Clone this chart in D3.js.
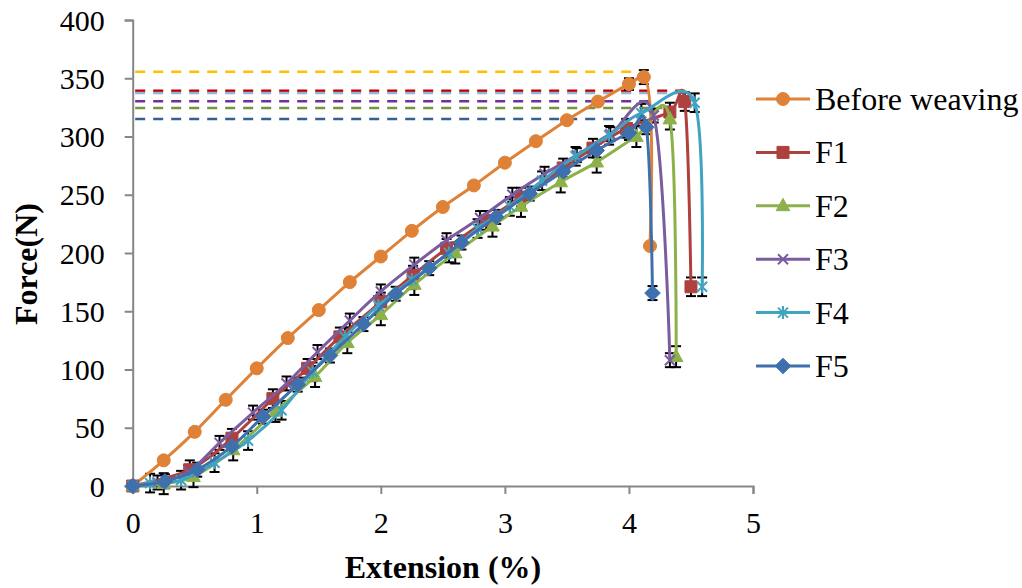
<!DOCTYPE html>
<html>
<head>
<meta charset="utf-8">
<script src="https://cdn.jsdelivr.net/npm/d3@7"></script>
<style>
    body { margin: 0; background: #fff; }
    text { font-family: "Liberation Serif", "Times New Roman", serif; fill: #000; }
</style>
</head>
<body>
<svg id="chart" width="1022" height="588"></svg>
<script>
// extension (%) / force (N) readings
const beforeX = [0, 0.25, 0.5, 0.75, 1, 1.25, 1.5, 1.75, 2, 2.25, 2.5, 2.75, 3, 3.25, 3.5, 3.75, 4, 4.12, 4.17]
const beforeY = [0, 22, 46.5, 74, 101, 127, 151, 175, 197, 219, 239.5, 258, 277.5, 296, 314, 330, 345, 351, 206]
const beforeErr = [0, 0, 0, 0, 0, 0, 0, 0, 0, 0, 0, 0, 0, 0, 0, 0, 5, 6, 0]

const f1X = [0, 0.46, 0.8, 1.13, 1.41, 1.67, 2.0, 2.26, 2.53, 2.85, 3.13, 3.47, 3.71, 3.98, 4.33, 4.45, 4.5]
const f1Y = [0, 14, 41, 75, 101, 128, 158, 181, 204, 228, 248, 273, 290, 307, 321, 330, 171]

const f2X = [0, 0.25, 0.49, 0.81, 1.15, 1.47, 1.73, 2.0, 2.27, 2.6, 2.9, 3.13, 3.45, 3.74, 4.06, 4.33, 4.38]
const f2Y = [0, 2, 8, 31, 64, 94, 123, 147, 173, 200, 223, 240, 261, 278, 300, 315, 111]

const f3X = [0, 0.2, 0.45, 0.7, 0.97, 1.24, 1.49, 1.75, 2.0, 2.27, 2.53, 2.8, 3.06, 3.32, 3.58, 3.85, 4.2, 4.33]
const f3Y = [0, 3, 12, 37, 63, 88, 115, 142, 167, 190, 211, 230, 250, 268, 284, 302, 318, 108]

const f4X = [0, 0.14, 0.39, 0.66, 0.93, 1.2, 1.45, 1.71, 1.98, 2.25, 2.55, 2.78, 3.04, 3.3, 3.57, 3.84, 4.1, 4.53, 4.59]
const f4Y = [0, 2.5, 5, 20, 39, 65, 98, 128, 155, 177, 200, 221, 240, 262, 283, 301, 320, 329, 171]

const f5X = [0, 0.26, 0.52, 0.8, 1.05, 1.33, 1.59, 1.86, 2.12, 2.39, 2.65, 2.93, 3.2, 3.47, 3.74, 4.0, 4.14, 4.19]
const f5Y = [0, 4, 14, 34, 59.5, 87, 112, 139, 165, 187, 209, 231, 251, 270, 288, 303, 308, 165.6]

// error bar half-length for F1..F5
const fErr = [8, 9, 6, 8, 6]

// maximum force reference lines: before weaving, F1..F5
const peakForce = [355.6, 339.3, 324.5, 330.2, 337.3, 315]
const peakEnd = [4.05, 4.45, 4.27, 4.17, 4.43, 4.1]
const peakColors = ["#FFC000", "#C00000", "#77933C", "#7030A0", "#95B3D7", "#376092"]

const names = ["Before weaving", "F1", "F2", "F3", "F4", "F5"]
const xTicks = [0, 1, 2, 3, 4, 5]
const yTicks = [0, 50, 100, 150, 200, 250, 300, 350, 400]

const toPoints = (xs, ys, err) => xs.map((v, i) => ({ x: v, y: ys[i], e: typeof err === "number" ? (ys[i] > 0 ? err : 0) : err[i] }))

// the yarn curve drops without any hump, the fabric curves round over at the top
const flat = d3.curveCatmullRom.alpha(0.5)
const round = d3.curveCardinal.tension(0)

const series = [
    { name: names[0], pts: toPoints(beforeX, beforeY, beforeErr), color: "#DF8136", marker: "circle", curve: flat },
    { name: names[1], pts: toPoints(f1X, f1Y, fErr[0]), color: "#AE403D", marker: "square", curve: round },
    { name: names[2], pts: toPoints(f2X, f2Y, fErr[1]), color: "#8DB14A", marker: "triangle", curve: round },
    { name: names[3], pts: toPoints(f3X, f3Y, fErr[2]), color: "#7A5C9F", marker: "x", curve: round },
    { name: names[4], pts: toPoints(f4X, f4Y, fErr[3]), color: "#40A3C0", marker: "star", curve: round },
    { name: names[5], pts: toPoints(f5X, f5Y, fErr[4]), color: "#3F70AE", marker: "diamond", curve: round }
]

const svg = d3.select("#chart")

const x = d3.scaleLinear().domain([0, 5]).range([132.7, 753])
const y = d3.scaleLinear().domain([0, 400]).range([486, 20])

// marker shapes centred on 0,0
const markerPath = (type, s) => {
    switch (type) {
        case "circle": return `M${s},0A${s},${s} 0 1,1 ${-s},0A${s},${s} 0 1,1 ${s},0Z`
        case "square": return `M${-s},${-s}h${2 * s}v${2 * s}h${-2 * s}Z`
        case "triangle": return `M0,${-s * 1.15}L${s * 1.05},${s * 0.75}L${-s * 1.05},${s * 0.75}Z`
        case "diamond": return `M0,${-s * 1.2}L${s * 1.2},0L0,${s * 1.2}L${-s * 1.2},0Z`
        case "x": return `M${-s},${-s}L${s},${s}M${-s},${s}L${s},${-s}`
        case "star": return `M${-s},${-s}L${s},${s}M${-s},${s}L${s},${-s}M0,${-s * 1.3}L0,${s * 1.3}`
    }
}
const markerSize = { circle: 6.5, square: 6, triangle: 6.5, diamond: 6.5, x: 5, star: 5 }
const isStroke = t => t === "x" || t === "star"

// dashed peak lines (behind the curves)
svg.append("g")
    .selectAll("line")
    .data(peakForce)
    .enter()
    .append("line")
    .attr("x1", x(0.02))
    .attr("x2", (d, i) => x(peakEnd[i]))
    .attr("y1", d => y(d))
    .attr("y2", d => y(d))
    .attr("stroke", (d, i) => peakColors[i])
    .attr("stroke-width", 2.5)
    .attr("stroke-dasharray", "10,8")

// axes
const axisColor = "#868686"
const yAxis = svg.append("g")
    .attr("transform", `translate(${x(0)},0)`)
    .call(d3.axisLeft(y).tickValues(yTicks).tickSize(8).tickPadding(20))
const xAxis = svg.append("g")
    .attr("transform", `translate(0,${y(0)})`)
    .call(d3.axisBottom(x).tickValues(xTicks).tickFormat(d3.format("d")).tickSize(8).tickPadding(18))

;[xAxis, yAxis].forEach(g => {
    g.select(".domain").attr("stroke", axisColor).attr("stroke-width", 2)
    g.selectAll(".tick line").attr("stroke", axisColor).attr("stroke-width", 2)
    g.selectAll(".tick text")
        .style("font-family", '"Liberation Serif", "Times New Roman", serif')
        .style("font-size", "30px")
        .attr("fill", "#000")
})
yAxis.selectAll(".tick text").attr("dy", "0.34em")

// error bars go underneath every curve, so mostly only the caps show
const errG = svg.append("g")
    .attr("stroke", "#000")
    .attr("stroke-width", 2)
series.forEach(s => {
    const bars = errG.append("g")
        .selectAll("g")
        .data(s.pts.filter(p => p.e > 0))
        .enter()
        .append("g")
    bars.append("line")
        .attr("x1", d => x(d.x)).attr("x2", d => x(d.x))
        .attr("y1", d => y(d.y + d.e)).attr("y2", d => y(d.y - d.e))
    bars.append("line")
        .attr("x1", d => x(d.x) - 5).attr("x2", d => x(d.x) + 5)
        .attr("y1", d => y(d.y + d.e)).attr("y2", d => y(d.y + d.e))
    bars.append("line")
        .attr("x1", d => x(d.x) - 5).attr("x2", d => x(d.x) + 5)
        .attr("y1", d => y(d.y - d.e)).attr("y2", d => y(d.y - d.e))
})

series.forEach(s => {
    const g = svg.append("g")

    const line = d3.line()
        .x(d => x(d.x))
        .y(d => y(d.y))
        .curve(s.curve)

    g.append("path")
        .attr("d", line(s.pts))
        .attr("fill", "none")
        .attr("stroke", s.color)
        .attr("stroke-width", 3)
        .attr("stroke-linejoin", "round")

    g.selectAll(".mk")
        .data(s.pts)
        .enter()
        .append("path")
        .attr("transform", d => `translate(${x(d.x)},${y(d.y)})`)
        .attr("d", markerPath(s.marker, markerSize[s.marker]))
        .attr("fill", isStroke(s.marker) ? "none" : s.color)
        .attr("stroke", s.color)
        .attr("stroke-width", isStroke(s.marker) ? 2 : 1)
})

// legend
const legend = svg.append("g")
    .selectAll("g")
    .data(series)
    .enter()
    .append("g")
    .attr("transform", (d, i) => `translate(0,${99 + i * 53.4})`)

legend.append("line")
    .attr("x1", 756).attr("x2", 810)
    .attr("stroke", d => d.color)
    .attr("stroke-width", 3)
legend.append("path")
    .attr("transform", "translate(783,0)")
    .attr("d", d => markerPath(d.marker, markerSize[d.marker]))
    .attr("fill", d => isStroke(d.marker) ? "none" : d.color)
    .attr("stroke", d => d.color)
    .attr("stroke-width", d => isStroke(d.marker) ? 2 : 1)
legend.append("text")
    .attr("x", 815)
    .attr("y", 11)
    .style("font-size", "32px")
    .text(d => d.name)

// axis titles
svg.append("text")
    .attr("x", 443)
    .attr("y", 578)
    .attr("text-anchor", "middle")
    .style("font-size", "32px")
    .style("font-weight", "bold")
    .text("Extension (%)")

svg.append("text")
    .attr("transform", "translate(37,264) rotate(-90)")
    .attr("text-anchor", "middle")
    .style("font-size", "32px")
    .style("font-weight", "bold")
    .text("Force(N)")
</script>
</body>
</html>
